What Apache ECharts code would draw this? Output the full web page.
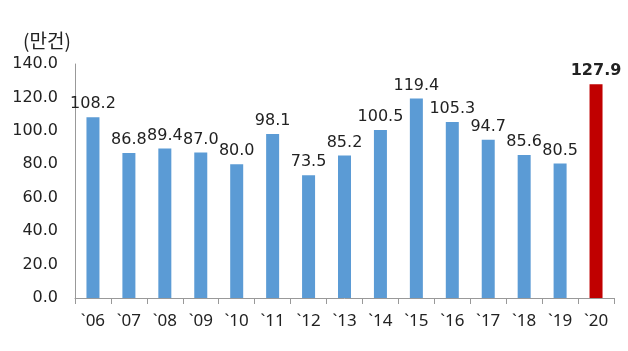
<!DOCTYPE html>
<html>
<head>
<meta charset="utf-8">
<script src="https://cdn.jsdelivr.net/npm/echarts@6/dist/echarts.min.js"></script>
<style>
  html, body { margin: 0; padding: 0; background: #fff; }
  #main { width: 628px; height: 351px; }
</style>
</head>
<body>
<div id="main"></div>
<script>
// 연도 (x축)
const years = ['`06', '`07', '`08', '`09', '`10', '`11', '`12', '`13', '`14', '`15', '`16', '`17', '`18', '`19', '`20']
// 건수 (만건)
const counts = [108.2, 86.8, 89.4, 87.0, 80.0, 98.1, 73.5, 85.2, 100.5, 119.4, 105.3, 94.7, 85.6, 80.5, 127.9]
const unitLabel = '(만건)'

const blue = '#5B9BD5'
const red = '#C00000'
const font = 'DejaVu Sans'

let chart = echarts.init(document.getElementById('main'))

const barData = counts.map((v, i) => {
  const last = i === counts.length - 1
  return {
    value: v,
    itemStyle: { color: last ? red : blue },
    label: last ? { fontWeight: 'bold' } : {}
  }
})

let option = {
  animation: false,
  title: {
    text: unitLabel,
    left: 18,
    top: 26,
    textStyle: { fontFamily: 'Noto Sans CJK KR', fontSize: 19, fontWeight: 'normal', color: '#222' }
  },
  grid: { left: 75, right: 14, top: 64, bottom: 53 },
  xAxis: {
    type: 'category',
    data: years,
    axisLine: { lineStyle: { color: '#999' } },
    axisTick: { show: true, length: 6, lineStyle: { color: '#999' } },
    axisLabel: { interval: 0, color: '#222', fontFamily: 'Noto Sans', fontSize: 17, margin: 15 }
  },
  yAxis: {
    type: 'value',
    min: 0,
    max: 140,
    interval: 20,
    axisLine: { show: true, lineStyle: { color: '#999' } },
    axisTick: { show: false },
    splitLine: { show: false },
    axisLabel: {
      color: '#222', fontFamily: font, fontSize: 16, margin: 17,
      formatter: v => v.toFixed(1)
    }
  },
  series: [
    {
      type: 'bar',
      data: barData,
      barWidth: 13,
      label: {
        show: true,
        position: 'top',
        distance: 5,
        color: '#222',
        fontFamily: font,
        fontSize: 16,
        formatter: p => p.value.toFixed(1)
      }
    }
  ]
}
chart.setOption(option)
</script>
</body>
</html>
